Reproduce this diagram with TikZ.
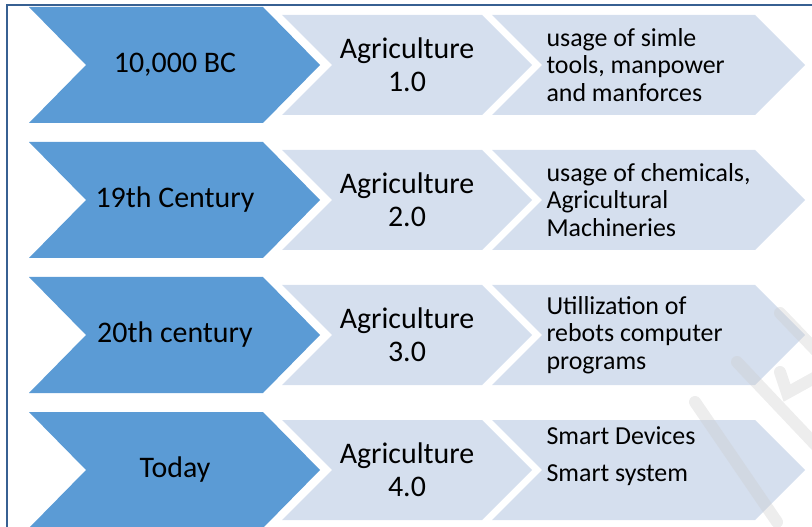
\documentclass[tikz,border=0pt]{standalone}
\usepackage{fontspec}
\setmainfont{Carlito}
\definecolor{darkblue}{RGB}{55,96,146}
\definecolor{midblue}{RGB}{91,155,213}
\definecolor{paleblue}{RGB}{213,223,238}

\begin{document}
\begin{tikzpicture} [x = 1bp, y = -1bp,
  era/.style = {fill = midblue},
  stage/.style = {fill = paleblue},
  wmark/.style = {draw = gray!40, opacity = 0.35, line width = 12bp, line cap = round},
  bigtext/.style = {font = \fontsize{30}{33}\selectfont, align = center},
  smalltext/.style = {font = \fontsize{26}{27.5}\selectfont, align = left, anchor = west}]
\useasboundingbox (0,0) rectangle (812,527);
\draw[darkblue, line width = 2bp] (7,530) |- (815,5);
\foreach \y in {65, 200, 335, 470} {
  \fill[era] (29,\y-58) -- (263,\y-58) -- (320,\y) -- (263,\y+58) -- (29,\y+58) -- (86,\y) -- cycle;
  \fill[stage] (282,\y-50) -- (482,\y-50) -- (532,\y) -- (482,\y+50) -- (282,\y+50) -- (332,\y) -- cycle;
  \fill[stage] (492,\y-50) -- (755,\y-50) -- (805,\y) -- (755,\y+50) -- (492,\y+50) -- (542,\y) -- cycle;
}
\draw[wmark] (780,313) -- (825,360);
\draw[wmark] (737,362) -- (825,455);
\draw[wmark] (695,402) -- (777,522);
\draw[wmark] (780,372) -- (787,393) -- (825,372);

\node[bigtext] (e1) at (175,65) {10,000 BC};
\node[bigtext] (a1) at (407,65) {Agriculture\\1.0};
\node[smalltext] (u1) at (543,65) {usage of simle\\tools, manpower\\and manforces};

\node[bigtext] (e2) at (175,200) {19th Century};
\node[bigtext] (a2) at (407,200) {Agriculture\\2.0};
\node[smalltext] (u2) at (543,200) {usage of chemicals,\\Agricultural\\Machineries};

\node[bigtext] (e3) at (175,335) {20th century};
\node[bigtext] (a3) at (407,335) {Agriculture\\3.0};
\node[smalltext] (u3) at (543,335) {Utillization of\\rebots computer\\programs};

\node[bigtext] (e4) at (175,470) {Today};
\node[bigtext] (a4) at (407,470) {Agriculture\\4.0};
\node[smalltext] (u4) at (543,456) {Smart Devices\\[10bp]Smart system};
\end{tikzpicture}
\end{document}
